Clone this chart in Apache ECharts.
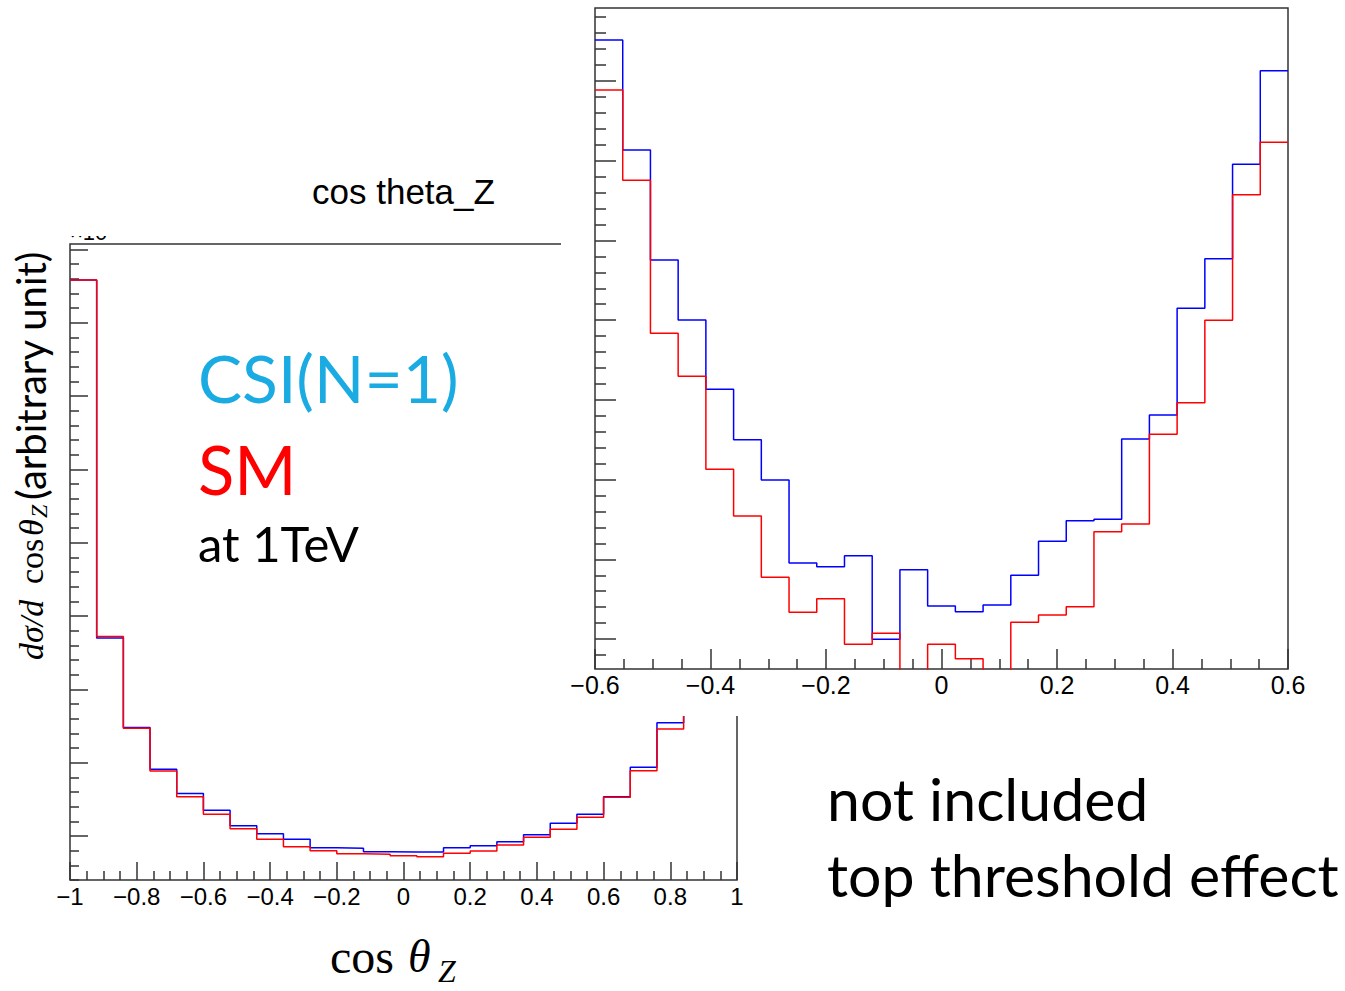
<!DOCTYPE html>
<html>
<head>
<meta charset="utf-8">
<script src="https://cdn.jsdelivr.net/npm/echarts@6/dist/echarts.min.js"></script>
<style>
  html, body { margin: 0; padding: 0; background: #fff; }
  #chart { width: 1345px; height: 991px; }
</style>
</head>
<body>
<div id="chart"></div>
<script>
// main histogram, 25 bins over [-1, 1]
const mainEdges = [-1, -0.92, -0.84, -0.76, -0.68, -0.6, -0.52, -0.44, -0.36, -0.28, -0.2, -0.12, -0.04,
  0.04, 0.12, 0.2, 0.28, 0.36, 0.44, 0.52, 0.6, 0.68, 0.76, 0.84, 0.92, 1]
const mainCSI = [8.58, 3.70, 2.48, 1.91, 1.58, 1.35, 1.14, 1.03, 0.955, 0.84, 0.832, 0.786, 0.782,
  0.782, 0.84, 0.868, 0.922, 1.018, 1.173, 1.296, 1.536, 1.937, 2.545, 3.75, 8.7]
const mainSM = [8.58, 3.72, 2.47, 1.886, 1.536, 1.296, 1.10, 0.955, 0.854, 0.80, 0.759, 0.75, 0.731,
  0.718, 0.764, 0.795, 0.877, 0.982, 1.091, 1.255, 1.527, 1.89, 2.459, 3.65, 8.5]
const mainMajorTicks = [1, 2, 3, 4, 5, 6, 7, 8, 9]

// zoomed histogram, 25 bins over [-0.6, 0.6]
const insetEdges = [-0.6, -0.552, -0.504, -0.456, -0.408, -0.36, -0.312, -0.264, -0.216, -0.168, -0.12, -0.072, -0.024,
  0.024, 0.072, 0.12, 0.168, 0.216, 0.264, 0.312, 0.36, 0.408, 0.456, 0.504, 0.552, 0.6]
const insetCSI = [8.515, 7.135, 5.755, 5.002, 4.133, 3.500, 2.995, 1.953, 1.907, 2.045, 0.996, 1.869, 1.414,
  1.342, 1.427, 1.799, 2.226, 2.484, 2.502, 3.509, 3.810, 5.149, 5.771, 6.955, 8.130]
const insetSM = [7.887, 6.755, 4.835, 4.296, 3.129, 2.543, 1.774, 1.335, 1.506, 0.934, 1.072, 0.55, 0.934,
  0.753, 0.55, 1.210, 1.301, 1.406, 2.346, 2.443, 3.568, 3.965, 4.998, 6.574, 7.231]
const insetMajorTicks = [1, 2, 3, 4, 5, 6, 7, 8]

const AXIS = '#333'
const LABEL_FONT = 'Liberation Sans'

function stepData (edges, vals) {
  const d = vals.map((v, i) => [edges[i], v])
  d.push([edges[edges.length - 1], vals[vals.length - 1]])
  return d
}

function minorTicks (from, to, step, majors) {
  const out = []
  for (let v = from; v <= to + 1e-9; v += step) {
    const r = Math.round(v * 1000) / 1000
    if (!majors.includes(r)) out.push(r)
  }
  return out
}

const minus = (v) => String(v).replace('-', '\u2212')

function xAxis (gridIndex, min, max, tickLen, fontSize, margin, z) {
  return {
    gridIndex, type: 'value', min, max, interval: 0.2, z, position: 'bottom',
    axisLine: { show: false, onZero: false },
    splitLine: { show: false },
    axisTick: { show: true, inside: true, length: tickLen, lineStyle: { color: AXIS, width: 1.5 } },
    minorTick: { show: true, splitNumber: 4, length: tickLen / 2, lineStyle: { color: AXIS, width: 1.5 } },
    axisLabel: { show: true, formatter: minus, color: '#000', fontSize, fontFamily: LABEL_FONT, margin }
  }
}

function yAxis (gridIndex, min, max, ticks, tickLen, z) {
  return {
    gridIndex, type: 'value', min, max, position: 'left', z,
    axisLine: { show: false, onZero: false },
    splitLine: { show: false },
    axisLabel: { show: false },
    axisTick: { show: true, inside: true, length: tickLen, customValues: ticks, lineStyle: { color: AXIS, width: 1.5 } }
  }
}

function histSeries (xi, data, color, z) {
  return {
    type: 'line', xAxisIndex: xi, yAxisIndex: xi * 2, step: 'end', symbol: 'none', z,
    data, lineStyle: { color, width: 1.5 }, itemStyle: { color }
  }
}

const chart = echarts.init(document.getElementById('chart'), null, { renderer: 'svg' })

chart.setOption({
  animation: false,
  backgroundColor: '#fff',
  grid: [
    { left: 70, top: 244, width: 667, height: 636, show: true, borderColor: AXIS, borderWidth: 1.5, backgroundColor: 'transparent' },
    { left: 595, top: 8, width: 693, height: 661, show: true, borderColor: AXIS, borderWidth: 1.5, backgroundColor: 'transparent', z: 10 }
  ],
  xAxis: [
    xAxis(0, -1, 1, 18, 24, 4, 0),
    xAxis(1, -0.6, 0.6, 20, 25, 3, 10)
  ],
  yAxis: [
    yAxis(0, 0.4, 9.072, mainMajorTicks, 18, 0),
    yAxis(0, 0.4, 9.072, minorTicks(0.4, 9.0, 0.2, mainMajorTicks), 9, 0),
    yAxis(1, 0.624, 8.916, insetMajorTicks, 21, 10),
    yAxis(1, 0.624, 8.916, minorTicks(0.8, 8.8, 0.2, insetMajorTicks), 11, 10)
  ],
  series: [
    histSeries(0, stepData(mainEdges, mainCSI), '#0000ff', 2),
    histSeries(0, stepData(mainEdges, mainSM), '#ff0000', 2),
    histSeries(1, stepData(insetEdges, insetCSI), '#0000ff', 12),
    histSeries(1, stepData(insetEdges, insetSM), '#ff0000', 12)
  ],
  graphic: [
    // white background of the pasted zoom panel
    { type: 'rect', z: 5, shape: { x: 561, y: 0, width: 784, height: 716 }, style: { fill: '#fff' } },
    // cut-off exponent of the main plot
    { type: 'text', z: 3, x: 70, y: 243, style: { text: '\u00d710', font: '22px "Liberation Sans"', fill: '#000', textVerticalAlign: 'bottom' } },
    { type: 'rect', z: 4, shape: { x: 60, y: 212, width: 70, height: 24 }, style: { fill: '#fff' } },
    { type: 'text', z: 3, x: 312, y: 191, style: { text: 'cos theta_Z', font: '35px "Liberation Sans"', fill: '#000', textVerticalAlign: 'middle' } },
    // y axis title
    {
      type: 'group', z: 3, x: 31, y: 660, rotation: Math.PI / 2,
      children: [
        { type: 'text', x: 0, y: 0, style: { text: 'd\u03c3/d', font: 'italic 34px "Liberation Serif"', fill: '#000', textVerticalAlign: 'middle' } },
        { type: 'text', x: 76, y: 0, style: { text: 'cos', font: '34px "Liberation Serif"', fill: '#000', textVerticalAlign: 'middle' } },
        { type: 'text', x: 124, y: 0, style: { text: '\u03b8', font: 'italic 34px "Liberation Serif"', fill: '#000', textVerticalAlign: 'middle' } },
        { type: 'text', x: 142, y: 8, style: { text: 'Z', font: 'italic 24px "Liberation Serif"', fill: '#000', textVerticalAlign: 'middle' } },
        { type: 'text', x: 160, y: 0, style: { text: '(arbitrary unit)', font: '40px Lato', fill: '#000', textVerticalAlign: 'middle' } }
      ]
    },
    // x axis title
    { type: 'text', z: 3, x: 330, y: 956, style: { text: 'cos', font: '48px "Liberation Serif"', fill: '#000', textVerticalAlign: 'middle' } },
    { type: 'text', z: 3, x: 408, y: 956, style: { text: '\u03b8', font: 'italic 46px "Liberation Serif"', fill: '#000', textVerticalAlign: 'middle' } },
    { type: 'text', z: 3, x: 438, y: 971, style: { text: 'Z', font: 'italic 32px "Liberation Serif"', fill: '#000', textVerticalAlign: 'middle' } },
    // annotations
    { type: 'text', z: 3, x: 198, y: 377, style: { text: 'CSI(N=1)', font: '66px Lato', fill: '#1babe3', textVerticalAlign: 'middle' } },
    { type: 'text', z: 3, x: 198, y: 469, style: { text: 'SM', font: '67px Lato', fill: '#ff0000', textVerticalAlign: 'middle' } },
    { type: 'text', z: 3, x: 198, y: 543, style: { text: 'at 1TeV', font: '49px Lato', fill: '#000', textVerticalAlign: 'middle' } },
    { type: 'text', z: 13, x: 827, y: 798, style: { text: 'not included', font: '59px Lato', fill: '#000', textVerticalAlign: 'middle' } },
    { type: 'text', z: 13, x: 827, y: 874, style: { text: 'top threshold effect', font: '59px Lato', fill: '#000', textVerticalAlign: 'middle' } }
  ]
})
</script>
</body>
</html>
